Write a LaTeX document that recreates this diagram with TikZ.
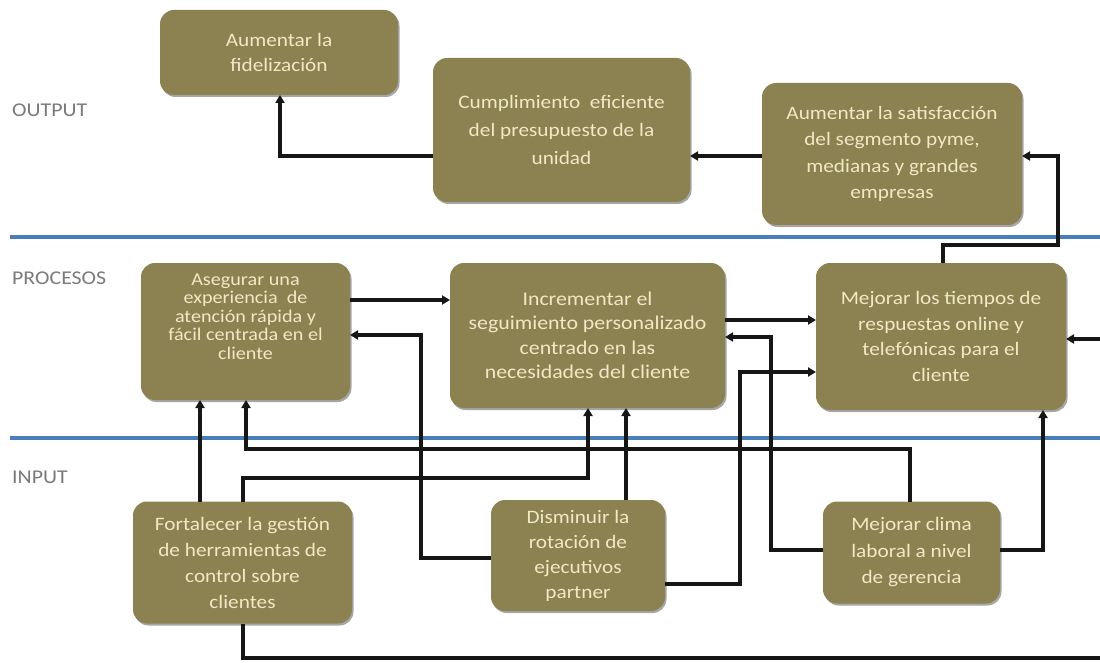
\documentclass[tikz,border=0pt]{standalone}
\usepackage{fontspec}
\setmainfont{Carlito}[FakeStretch=1.12]
\usetikzlibrary{arrows.meta,shadows}
\definecolor{boxfill}{HTML}{8C8150}
\definecolor{boxtext}{HTML}{F0E9C6}
\definecolor{lblgray}{HTML}{7A7A7A}
\definecolor{sepblue}{HTML}{4A7EBB}
\definecolor{connblack}{HTML}{161616}
\tikzset{
  bx/.style={rectangle, rounded corners=14pt, fill=boxfill, text=boxtext,
    align=center, inner sep=0pt, outer sep=0pt,
    font=\fontsize{19}{25.5}\selectfont,
    drop shadow={shadow xshift=1.5pt, shadow yshift=-2pt, opacity=0.35, fill=black}},
  lbl/.style={anchor=west, text=lblgray, inner sep=0pt, font=\fontsize{19.5}{22}\selectfont},
  sepline/.style={draw=sepblue, line width=4.5pt},
  conn/.style={draw=connblack, line width=3.2pt, -{Triangle[length=8pt,width=9pt]}},
}
\begin{document}
\begin{tikzpicture}[x=1pt,y=-1pt]
\useasboundingbox (0,0) rectangle (1100,663);

% separator lines
\draw[sepline] (10,237) -- (1100,237);
\draw[sepline] (10,438) -- (1100,438);

% layer labels
\node[lbl] (lout) at (12,110) {OUTPUT};
\node[lbl] (lpro) at (12,278) {PROCESOS};
\node[lbl] (linp) at (12,477) {INPUT};

% helper coordinates (bend positions)
\coordinate (h156) at (0,156);
\coordinate (h245) at (0,245);
\coordinate (h300) at (0,300);
\coordinate (h320) at (0,320);
\coordinate (h335) at (0,335);
\coordinate (h337) at (0,337);
\coordinate (h339) at (0,339);
\coordinate (h372) at (0,372);
\coordinate (h449) at (0,449);
\coordinate (h478) at (0,478);
\coordinate (h550) at (0,550);
\coordinate (h558) at (0,558);
\coordinate (h584) at (0,584);
\coordinate (h658) at (0,658);
\coordinate (v200) at (200,0);
\coordinate (v243) at (243,0);
\coordinate (v246) at (246,0);
\coordinate (v280) at (280,0);
\coordinate (v421) at (421,0);
\coordinate (v588) at (588,0);
\coordinate (v626) at (626,0);
\coordinate (v740) at (740,0);
\coordinate (v771) at (771,0);
\coordinate (v910) at (910,0);
\coordinate (v943) at (943,0);
\coordinate (v1043) at (1043,0);
\coordinate (v1058) at (1058,0);
\coordinate (v1106) at (1106,0);

% boxes
\node[bx, minimum width=238pt, minimum height=85pt] (A) at (279,52.5)
  {Aumentar la\\fidelización};
\node[bx, minimum width=257pt, minimum height=144pt, font=\fontsize{19}{28}\selectfont] (B) at (561.5,130)
  {Cumplimiento~ eficiente\\del presupuesto de la\\unidad};
\node[bx, minimum width=260pt, minimum height=142pt, font=\fontsize{19}{26.5}\selectfont] (C) at (892,154)
  {Aumentar la satisfacción\\del segmento pyme,\\medianas y grandes\\empresas};
\node[bx, minimum width=209pt, minimum height=137pt, font=\fontsize{18}{18.5}\selectfont] (D) at (245.5,331.5)
  {Asegurar una\\experiencia~ de\\atención rápida y\\fácil centrada en el\\cliente\\[12pt]\mbox{}};
\node[bx, minimum width=275pt, minimum height=145pt, font=\fontsize{19.5}{24.5}\selectfont] (E) at (587.5,335.5)
  {Incrementar el\\seguimiento personalizado\\centrado en las\\necesidades del cliente};
\node[bx, minimum width=250pt, minimum height=147pt] (F) at (941,336.5)
  {Mejorar los tiempos de\\respuestas online y\\telefónicas para el\\cliente};
\node[bx, minimum width=219pt, minimum height=122pt, font=\fontsize{19}{26}\selectfont] (G) at (242.5,562.5)
  {Fortalecer la gestión\\de herramientas de\\control sobre\\clientes};
\node[bx, minimum width=174pt, minimum height=111pt, font=\fontsize{19}{25}\selectfont] (H) at (578,555.5)
  {Disminuir la\\rotación de\\ejecutivos\\partner};
\node[bx, minimum width=177pt, minimum height=102pt, font=\fontsize{19}{26.5}\selectfont] (I) at (911.5,552.5)
  {Mejorar clima\\laboral a nivel\\de gerencia};

% connectors
\draw[conn] (B.west |- h156) -| (A.south -| v280);
\draw[conn] (C.west |- h156) -- (B.east |- h156);
\draw[conn] (F.north -| v943) |- (v1058 |- h245) |- (C.east |- h156);
\draw[conn] (D.east |- h300) -- (E.west |- h300);
\draw[conn] (E.east |- h320) -- (F.west |- h320);
\draw[conn] (H.east |- h584) -| (v740 |- h372) -- (F.west |- h372);
\draw[conn] (I.west |- h550) -| (v771 |- h337) -- (E.east |- h337);
\draw[conn] (H.west |- h558) -| (v421 |- h335) -- (D.east |- h335);
\draw[conn] (G.north -| v200) -- (D.south -| v200);
\draw[conn] (I.north -| v910) |- (v246 |- h449) -- (D.south -| v246);
\draw[conn] (G.north -| v243) |- (v588 |- h478) -- (E.south -| v588);
\draw[conn] (H.north -| v626) -- (E.south -| v626);
\draw[conn] (I.east |- h550) -| (F.south -| v1043);
\draw[conn] (G.south -| v243) |- (v1106 |- h658) |- (F.east |- h339);
\end{tikzpicture}
\end{document}
